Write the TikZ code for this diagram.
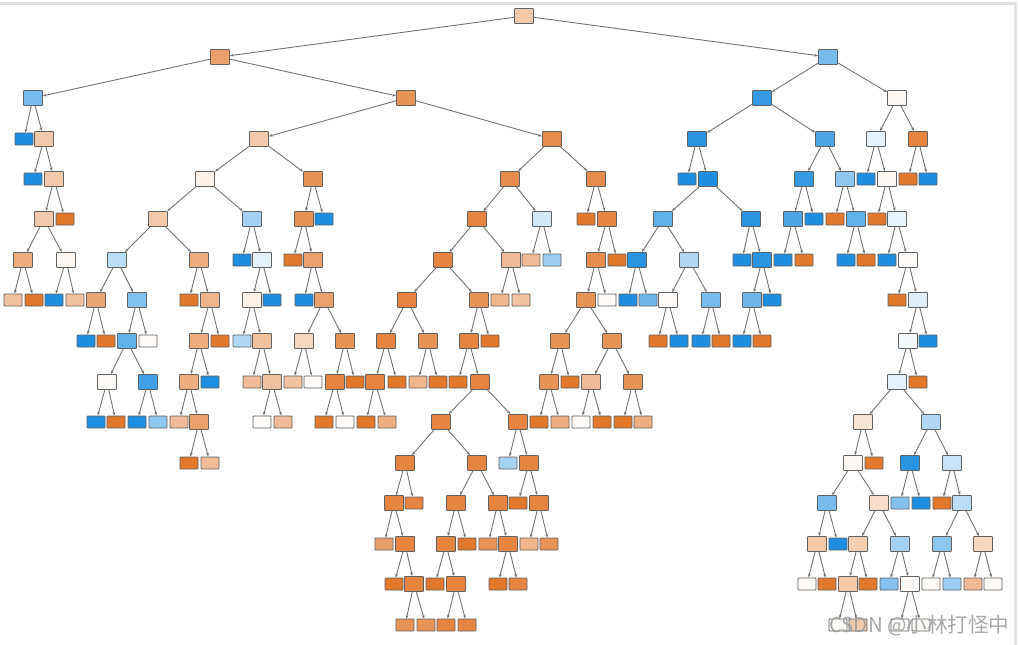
\documentclass[tikz,border=0pt]{standalone}
\usepackage{fontspec}
\usepackage{tikz}
\usetikzlibrary{arrows.meta}
\newfontfamily\cjk{Noto Sans CJK SC}
\definecolor{clsA}{HTML}{E2782C}
\definecolor{clsB}{HTML}{1E8FE0}
\tikzset{
  box/.style={rectangle, rounded corners=0.8pt, draw=black!62, line width=0.9pt, inner sep=0pt},
  split/.style={box, fill=#1, minimum width=19pt, minimum height=15pt},
  leaf/.style={box, fill=#1, minimum width=18pt, minimum height=12pt},
  link/.style={draw=black!55, line width=0.9pt, -{Stealth[length=3.6pt, width=2.8pt]}}
}
\begin{document}
\begin{tikzpicture}[x=1pt, y=-1pt]
		\useasboundingbox (0,0) rectangle (1018,645);
		\draw [black!12, line width=3pt] (0,3) -- (1015,3) -- (1015,645);

		\node [split=clsA!40] (n0) at (524,16) {};

		\node [split=clsA!70] (n1a) at (220,57) {};
		\node [split=clsB!60] (n1b) at (828,57) {};
		\draw [link] (n0) -- (n1a);
		\draw [link] (n0) -- (n1b);

		\node [split=clsB!60] (n2a) at (33,98) {};
		\node [split=clsA!80] (n2b) at (406,98) {};
		\node [split=clsB!90] (n2c) at (762,98) {};
		\node [split=clsA!5] (n2d) at (897,98) {};
		\draw [link] (n1a) -- (n2a);
		\draw [link] (n1a) -- (n2b);
		\draw [link] (n1b) -- (n2c);
		\draw [link] (n1b) -- (n2d);

		\node [leaf=clsB] (n3a) at (24,139) {};
		\node [split=clsA!40] (n3b) at (44,139) {};
		\node [split=clsA!40] (n3c) at (259,139) {};
		\node [split=clsA!85] (n3d) at (552,139) {};
		\node [split=clsB!95] (n3e) at (697,139) {};
		\node [split=clsB!80] (n3f) at (825,139) {};
		\node [split=clsB!12] (n3g) at (876,139) {};
		\node [split=clsA!90] (n3h) at (918,139) {};
		\draw [link] (n2a) -- (n3a);
		\draw [link] (n2a) -- (n3b);
		\draw [link] (n2b) -- (n3c);
		\draw [link] (n2b) -- (n3d);
		\draw [link] (n2c) -- (n3e);
		\draw [link] (n2c) -- (n3f);
		\draw [link] (n2d) -- (n3g);
		\draw [link] (n2d) -- (n3h);

		\node [leaf=clsB] (n4a) at (33,179) {};
		\node [split=clsA!40] (n4b) at (54,179) {};
		\node [split=clsA!10] (n4c) at (205,179) {};
		\node [split=clsA!80] (n4d) at (313,179) {};
		\node [split=clsA!85] (n4e) at (510,179) {};
		\node [split=clsA!85] (n4f) at (596,179) {};
		\node [leaf=clsB] (n4g) at (687,179) {};
		\node [split=clsB] (n4h) at (708,179) {};
		\node [split=clsB!90] (n4i) at (804,179) {};
		\node [split=clsB!50] (n4j) at (845,179) {};
		\node [leaf=clsB] (n4k) at (866,179) {};
		\node [split=clsA!5] (n4l) at (887,179) {};
		\node [leaf=clsA] (n4m) at (908,179) {};
		\node [leaf=clsB] (n4n) at (928,179) {};
		\draw [link] (n3b) -- (n4a);
		\draw [link] (n3b) -- (n4b);
		\draw [link] (n3c) -- (n4c);
		\draw [link] (n3c) -- (n4d);
		\draw [link] (n3d) -- (n4e);
		\draw [link] (n3d) -- (n4f);
		\draw [link] (n3e) -- (n4g);
		\draw [link] (n3e) -- (n4h);
		\draw [link] (n3f) -- (n4i);
		\draw [link] (n3f) -- (n4j);
		\draw [link] (n3g) -- (n4k);
		\draw [link] (n3g) -- (n4l);
		\draw [link] (n3h) -- (n4m);
		\draw [link] (n3h) -- (n4n);

		\node [split=clsA!40] (n5a) at (44,219) {};
		\node [leaf=clsA] (n5b) at (65,219) {};
		\node [split=clsA!40] (n5c) at (158,219) {};
		\node [split=clsB!40] (n5d) at (252,219) {};
		\node [split=clsA!80] (n5e) at (304,219) {};
		\node [leaf=clsB] (n5f) at (324,219) {};
		\node [split=clsA!90] (n5g) at (477,219) {};
		\node [split=clsB!20] (n5h) at (542,219) {};
		\node [leaf=clsA] (n5i) at (586,219) {};
		\node [split=clsA!90] (n5j) at (607,219) {};
		\node [split=clsB!70] (n5k) at (663,219) {};
		\node [split=clsB!95] (n5l) at (751,219) {};
		\node [split=clsB!80] (n5m) at (793,219) {};
		\node [leaf=clsB] (n5n) at (814,219) {};
		\node [leaf=clsA] (n5o) at (835,219) {};
		\node [split=clsB!70] (n5p) at (856,219) {};
		\node [leaf=clsA] (n5q) at (877,219) {};
		\node [split=clsB!10] (n5r) at (897,219) {};
		\draw [link] (n4b) -- (n5a);
		\draw [link] (n4b) -- (n5b);
		\draw [link] (n4c) -- (n5c);
		\draw [link] (n4c) -- (n5d);
		\draw [link] (n4d) -- (n5e);
		\draw [link] (n4d) -- (n5f);
		\draw [link] (n4e) -- (n5g);
		\draw [link] (n4e) -- (n5h);
		\draw [link] (n4f) -- (n5i);
		\draw [link] (n4f) -- (n5j);
		\draw [link] (n4h) -- (n5k);
		\draw [link] (n4h) -- (n5l);
		\draw [link] (n4i) -- (n5m);
		\draw [link] (n4i) -- (n5n);
		\draw [link] (n4j) -- (n5o);
		\draw [link] (n4j) -- (n5p);
		\draw [link] (n4l) -- (n5q);
		\draw [link] (n4l) -- (n5r);

		\node [split=clsA!60] (n6a) at (23,260) {};
		\node [split=clsA!5] (n6b) at (66,260) {};
		\node [split=clsB!30] (n6c) at (117,260) {};
		\node [split=clsA!60] (n6d) at (199,260) {};
		\node [leaf=clsB] (n6e) at (242,260) {};
		\node [split=clsB!12] (n6f) at (262,260) {};
		\node [leaf=clsA] (n6g) at (293,260) {};
		\node [split=clsA!70] (n6h) at (313,260) {};
		\node [split=clsA!90] (n6i) at (443,260) {};
		\node [split=clsA!50] (n6j) at (511,260) {};
		\node [leaf=clsA!50] (n6k) at (531,260) {};
		\node [leaf=clsB!45] (n6l) at (552,260) {};
		\node [split=clsA!85] (n6m) at (596,260) {};
		\node [leaf=clsA] (n6n) at (617,260) {};
		\node [split=clsB!95] (n6o) at (637,260) {};
		\node [split=clsB!35] (n6p) at (689,260) {};
		\node [leaf=clsB] (n6q) at (742,260) {};
		\node [split=clsB!95] (n6r) at (762,260) {};
		\node [leaf=clsB] (n6s) at (783,260) {};
		\node [leaf=clsA] (n6t) at (804,260) {};
		\node [leaf=clsB] (n6u) at (846,260) {};
		\node [leaf=clsA] (n6v) at (866,260) {};
		\node [leaf=clsB] (n6w) at (887,260) {};
		\node [split=clsA!3] (n6x) at (908,260) {};
		\draw [link] (n5a) -- (n6a);
		\draw [link] (n5a) -- (n6b);
		\draw [link] (n5c) -- (n6c);
		\draw [link] (n5c) -- (n6d);
		\draw [link] (n5d) -- (n6e);
		\draw [link] (n5d) -- (n6f);
		\draw [link] (n5e) -- (n6g);
		\draw [link] (n5e) -- (n6h);
		\draw [link] (n5g) -- (n6i);
		\draw [link] (n5g) -- (n6j);
		\draw [link] (n5h) -- (n6k);
		\draw [link] (n5h) -- (n6l);
		\draw [link] (n5j) -- (n6m);
		\draw [link] (n5j) -- (n6n);
		\draw [link] (n5k) -- (n6o);
		\draw [link] (n5k) -- (n6p);
		\draw [link] (n5l) -- (n6q);
		\draw [link] (n5l) -- (n6r);
		\draw [link] (n5m) -- (n6s);
		\draw [link] (n5m) -- (n6t);
		\draw [link] (n5p) -- (n6u);
		\draw [link] (n5p) -- (n6v);
		\draw [link] (n5r) -- (n6w);
		\draw [link] (n5r) -- (n6x);

		\node [leaf=clsA!45] (n7a) at (13,300) {};
		\node [leaf=clsA] (n7b) at (34,300) {};
		\node [leaf=clsB] (n7c) at (54,300) {};
		\node [leaf=clsA!45] (n7d) at (75,300) {};
		\node [split=clsA!65] (n7e) at (96,300) {};
		\node [split=clsB!55] (n7f) at (137,300) {};
		\node [leaf=clsA] (n7g) at (189,300) {};
		\node [split=clsA!55] (n7h) at (210,300) {};
		\node [split=clsA!12] (n7i) at (252,300) {};
		\node [leaf=clsB] (n7j) at (272,300) {};
		\node [leaf=clsB] (n7k) at (304,300) {};
		\node [split=clsA!70] (n7l) at (324,300) {};
		\node [split=clsA!90] (n7m) at (407,300) {};
		\node [split=clsA!80] (n7n) at (479,300) {};
		\node [leaf=clsA!55] (n7o) at (500,300) {};
		\node [leaf=clsA!45] (n7p) at (521,300) {};
		\node [split=clsA!80] (n7q) at (586,300) {};
		\node [leaf=clsA!4] (n7r) at (607,300) {};
		\node [leaf=clsB] (n7s) at (628,300) {};
		\node [leaf=clsB!65] (n7t) at (648,300) {};
		\node [split=clsA!4] (n7u) at (668,300) {};
		\node [split=clsB!60] (n7v) at (711,300) {};
		\node [split=clsB!65] (n7w) at (752,300) {};
		\node [leaf=clsB] (n7x) at (772,300) {};
		\node [leaf=clsA] (n7y) at (897,300) {};
		\node [split=clsB!15] (n7z) at (918,300) {};
		\draw [link] (n6a) -- (n7a);
		\draw [link] (n6a) -- (n7b);
		\draw [link] (n6b) -- (n7c);
		\draw [link] (n6b) -- (n7d);
		\draw [link] (n6c) -- (n7e);
		\draw [link] (n6c) -- (n7f);
		\draw [link] (n6d) -- (n7g);
		\draw [link] (n6d) -- (n7h);
		\draw [link] (n6f) -- (n7i);
		\draw [link] (n6f) -- (n7j);
		\draw [link] (n6h) -- (n7k);
		\draw [link] (n6h) -- (n7l);
		\draw [link] (n6i) -- (n7m);
		\draw [link] (n6i) -- (n7n);
		\draw [link] (n6j) -- (n7o);
		\draw [link] (n6j) -- (n7p);
		\draw [link] (n6m) -- (n7q);
		\draw [link] (n6m) -- (n7r);
		\draw [link] (n6o) -- (n7s);
		\draw [link] (n6o) -- (n7t);
		\draw [link] (n6p) -- (n7u);
		\draw [link] (n6p) -- (n7v);
		\draw [link] (n6r) -- (n7w);
		\draw [link] (n6r) -- (n7x);
		\draw [link] (n6x) -- (n7y);
		\draw [link] (n6x) -- (n7z);

		\node [leaf=clsB] (n8a) at (86,341) {};
		\node [leaf=clsA] (n8b) at (106,341) {};
		\node [split=clsB!70] (n8c) at (127,341) {};
		\node [leaf=clsA!4] (n8d) at (148,341) {};
		\node [split=clsA!60] (n8e) at (199,341) {};
		\node [leaf=clsA] (n8f) at (220,341) {};
		\node [leaf=clsB!35] (n8g) at (242,341) {};
		\node [split=clsA!45] (n8h) at (262,341) {};
		\node [split=clsA!30] (n8i) at (304,341) {};
		\node [split=clsA!80] (n8j) at (345,341) {};
		\node [split=clsA!90] (n8k) at (386,341) {};
		\node [split=clsA!80] (n8l) at (428,341) {};
		\node [split=clsA!90] (n8m) at (469,341) {};
		\node [leaf=clsA] (n8n) at (490,341) {};
		\node [split=clsA!80] (n8o) at (560,341) {};
		\node [split=clsA!80] (n8p) at (612,341) {};
		\node [leaf=clsA] (n8q) at (658,341) {};
		\node [leaf=clsB] (n8r) at (679,341) {};
		\node [leaf=clsB] (n8s) at (701,341) {};
		\node [leaf=clsA] (n8t) at (721,341) {};
		\node [leaf=clsB] (n8u) at (742,341) {};
		\node [leaf=clsA] (n8v) at (762,341) {};
		\node [split=clsB!5] (n8w) at (908,341) {};
		\node [leaf=clsB] (n8x) at (928,341) {};
		\draw [link] (n7e) -- (n8a);
		\draw [link] (n7e) -- (n8b);
		\draw [link] (n7f) -- (n8c);
		\draw [link] (n7f) -- (n8d);
		\draw [link] (n7h) -- (n8e);
		\draw [link] (n7h) -- (n8f);
		\draw [link] (n7i) -- (n8g);
		\draw [link] (n7i) -- (n8h);
		\draw [link] (n7l) -- (n8i);
		\draw [link] (n7l) -- (n8j);
		\draw [link] (n7m) -- (n8k);
		\draw [link] (n7m) -- (n8l);
		\draw [link] (n7n) -- (n8m);
		\draw [link] (n7n) -- (n8n);
		\draw [link] (n7q) -- (n8o);
		\draw [link] (n7q) -- (n8p);
		\draw [link] (n7u) -- (n8q);
		\draw [link] (n7u) -- (n8r);
		\draw [link] (n7v) -- (n8s);
		\draw [link] (n7v) -- (n8t);
		\draw [link] (n7w) -- (n8u);
		\draw [link] (n7w) -- (n8v);
		\draw [link] (n7z) -- (n8w);
		\draw [link] (n7z) -- (n8x);

		\node [split=clsA!4] (n9a) at (107,382) {};
		\node [split=clsB!85] (n9b) at (148,382) {};
		\node [split=clsA!60] (n9c) at (189,382) {};
		\node [leaf=clsB] (n9d) at (210,382) {};
		\node [leaf=clsA!50] (n9e) at (252,382) {};
		\node [split=clsA!45] (n9f) at (272,382) {};
		\node [leaf=clsA!45] (n9g) at (293,382) {};
		\node [leaf=clsA!4] (n9h) at (313,382) {};
		\node [split=clsA!90] (n9i) at (335,382) {};
		\node [leaf=clsA] (n9j) at (355,382) {};
		\node [split=clsA!90] (n9k) at (375,382) {};
		\node [leaf=clsA] (n9l) at (397,382) {};
		\node [leaf=clsA!55] (n9m) at (418,382) {};
		\node [leaf=clsA] (n9n) at (438,382) {};
		\node [leaf=clsA] (n9o) at (458,382) {};
		\node [split=clsA!90] (n9p) at (480,382) {};
		\node [split=clsA!80] (n9q) at (549,382) {};
		\node [leaf=clsA] (n9r) at (570,382) {};
		\node [split=clsA!50] (n9s) at (591,382) {};
		\node [split=clsA!80] (n9t) at (633,382) {};
		\node [split=clsB!12] (n9u) at (897,382) {};
		\node [leaf=clsA] (n9v) at (918,382) {};
		\draw [link] (n8c) -- (n9a);
		\draw [link] (n8c) -- (n9b);
		\draw [link] (n8e) -- (n9c);
		\draw [link] (n8e) -- (n9d);
		\draw [link] (n8h) -- (n9e);
		\draw [link] (n8h) -- (n9f);
		\draw [link] (n8i) -- (n9g);
		\draw [link] (n8i) -- (n9h);
		\draw [link] (n8j) -- (n9i);
		\draw [link] (n8j) -- (n9j);
		\draw [link] (n8k) -- (n9k);
		\draw [link] (n8k) -- (n9l);
		\draw [link] (n8l) -- (n9m);
		\draw [link] (n8l) -- (n9n);
		\draw [link] (n8m) -- (n9o);
		\draw [link] (n8m) -- (n9p);
		\draw [link] (n8o) -- (n9q);
		\draw [link] (n8o) -- (n9r);
		\draw [link] (n8p) -- (n9s);
		\draw [link] (n8p) -- (n9t);
		\draw [link] (n8w) -- (n9u);
		\draw [link] (n8w) -- (n9v);

		\node [leaf=clsB] (n10a) at (96,422) {};
		\node [leaf=clsA] (n10b) at (116,422) {};
		\node [leaf=clsB] (n10c) at (137,422) {};
		\node [leaf=clsB!50] (n10d) at (158,422) {};
		\node [leaf=clsA!50] (n10e) at (179,422) {};
		\node [split=clsA!70] (n10f) at (199,422) {};
		\node [leaf=clsA!4] (n10g) at (262,422) {};
		\node [leaf=clsA!50] (n10h) at (283,422) {};
		\node [leaf=clsA] (n10i) at (324,422) {};
		\node [leaf=clsA!4] (n10j) at (345,422) {};
		\node [leaf=clsA] (n10k) at (366,422) {};
		\node [leaf=clsA!60] (n10l) at (387,422) {};
		\node [split=clsA!90] (n10m) at (441,422) {};
		\node [split=clsA!90] (n10n) at (518,422) {};
		\node [leaf=clsA] (n10o) at (539,422) {};
		\node [leaf=clsA!60] (n10p) at (560,422) {};
		\node [leaf=clsA!4] (n10q) at (581,422) {};
		\node [leaf=clsA] (n10r) at (602,422) {};
		\node [leaf=clsA] (n10s) at (623,422) {};
		\node [leaf=clsA!60] (n10t) at (643,422) {};
		\node [split=clsA!20] (n10u) at (863,422) {};
		\node [split=clsB!35] (n10v) at (931,422) {};
		\draw [link] (n9a) -- (n10a);
		\draw [link] (n9a) -- (n10b);
		\draw [link] (n9b) -- (n10c);
		\draw [link] (n9b) -- (n10d);
		\draw [link] (n9c) -- (n10e);
		\draw [link] (n9c) -- (n10f);
		\draw [link] (n9f) -- (n10g);
		\draw [link] (n9f) -- (n10h);
		\draw [link] (n9i) -- (n10i);
		\draw [link] (n9i) -- (n10j);
		\draw [link] (n9k) -- (n10k);
		\draw [link] (n9k) -- (n10l);
		\draw [link] (n9p) -- (n10m);
		\draw [link] (n9p) -- (n10n);
		\draw [link] (n9q) -- (n10o);
		\draw [link] (n9q) -- (n10p);
		\draw [link] (n9s) -- (n10q);
		\draw [link] (n9s) -- (n10r);
		\draw [link] (n9t) -- (n10s);
		\draw [link] (n9t) -- (n10t);
		\draw [link] (n9u) -- (n10u);
		\draw [link] (n9u) -- (n10v);

		\node [leaf=clsA] (n11a) at (189,463) {};
		\node [leaf=clsA!50] (n11b) at (210,463) {};
		\node [split=clsA!90] (n11c) at (405,463) {};
		\node [split=clsA!90] (n11d) at (477,463) {};
		\node [leaf=clsB!40] (n11e) at (508,463) {};
		\node [split=clsA!90] (n11f) at (529,463) {};
		\node [split=clsA!5] (n11g) at (853,463) {};
		\node [leaf=clsA] (n11h) at (874,463) {};
		\node [split=clsB!95] (n11i) at (910,463) {};
		\node [split=clsB!25] (n11j) at (952,463) {};
		\draw [link] (n10f) -- (n11a);
		\draw [link] (n10f) -- (n11b);
		\draw [link] (n10m) -- (n11c);
		\draw [link] (n10m) -- (n11d);
		\draw [link] (n10n) -- (n11e);
		\draw [link] (n10n) -- (n11f);
		\draw [link] (n10u) -- (n11g);
		\draw [link] (n10u) -- (n11h);
		\draw [link] (n10v) -- (n11i);
		\draw [link] (n10v) -- (n11j);

		\node [split=clsA!90] (n12a) at (394,503) {};
		\node [leaf=clsA!90] (n12b) at (414,503) {};
		\node [split=clsA!90] (n12c) at (456,503) {};
		\node [split=clsA!90] (n12d) at (498,503) {};
		\node [leaf=clsA] (n12e) at (518,503) {};
		\node [split=clsA!90] (n12f) at (539,503) {};
		\node [split=clsB!60] (n12g) at (827,503) {};
		\node [split=clsA!25] (n12h) at (879,503) {};
		\node [leaf=clsB!55] (n12i) at (900,503) {};
		\node [leaf=clsB] (n12j) at (921,503) {};
		\node [leaf=clsA] (n12k) at (942,503) {};
		\node [split=clsB!30] (n12l) at (962,503) {};
		\draw [link] (n11c) -- (n12a);
		\draw [link] (n11c) -- (n12b);
		\draw [link] (n11d) -- (n12c);
		\draw [link] (n11d) -- (n12d);
		\draw [link] (n11f) -- (n12e);
		\draw [link] (n11f) -- (n12f);
		\draw [link] (n11g) -- (n12g);
		\draw [link] (n11g) -- (n12h);
		\draw [link] (n11i) -- (n12i);
		\draw [link] (n11i) -- (n12j);
		\draw [link] (n11j) -- (n12k);
		\draw [link] (n11j) -- (n12l);

		\node [leaf=clsA!70] (n13a) at (384,544) {};
		\node [split=clsA!90] (n13b) at (405,544) {};
		\node [split=clsA!90] (n13c) at (446,544) {};
		\node [leaf=clsA] (n13d) at (467,544) {};
		\node [leaf=clsA!80] (n13e) at (488,544) {};
		\node [split=clsA!90] (n13f) at (508,544) {};
		\node [leaf=clsA!55] (n13g) at (529,544) {};
		\node [leaf=clsA!80] (n13h) at (549,544) {};
		\node [split=clsA!40] (n13i) at (817,544) {};
		\node [leaf=clsB] (n13j) at (838,544) {};
		\node [split=clsA!35] (n13k) at (858,544) {};
		\node [split=clsB!40] (n13l) at (900,544) {};
		\node [split=clsB!50] (n13m) at (942,544) {};
		\node [split=clsA!30] (n13n) at (983,544) {};
		\draw [link] (n12a) -- (n13a);
		\draw [link] (n12a) -- (n13b);
		\draw [link] (n12c) -- (n13c);
		\draw [link] (n12c) -- (n13d);
		\draw [link] (n12d) -- (n13e);
		\draw [link] (n12d) -- (n13f);
		\draw [link] (n12f) -- (n13g);
		\draw [link] (n12f) -- (n13h);
		\draw [link] (n12g) -- (n13i);
		\draw [link] (n12g) -- (n13j);
		\draw [link] (n12h) -- (n13k);
		\draw [link] (n12h) -- (n13l);
		\draw [link] (n12l) -- (n13m);
		\draw [link] (n12l) -- (n13n);

		\node [leaf=clsA] (n14a) at (394,584) {};
		\node [split=clsA!90] (n14b) at (414,584) {};
		\node [leaf=clsA] (n14c) at (435,584) {};
		\node [split=clsA!90] (n14d) at (456,584) {};
		\node [leaf=clsA] (n14e) at (498,584) {};
		\node [leaf=clsA!90] (n14f) at (518,584) {};
		\node [leaf=clsA!4] (n14g) at (807,584) {};
		\node [leaf=clsA] (n14h) at (827,584) {};
		\node [split=clsA!40] (n14i) at (848,584) {};
		\node [leaf=clsA] (n14j) at (868,584) {};
		\node [leaf=clsB!55] (n14k) at (889,584) {};
		\node [split=clsA!4] (n14l) at (910,584) {};
		\node [leaf=clsA!4] (n14m) at (931,584) {};
		\node [leaf=clsB!45] (n14n) at (952,584) {};
		\node [leaf=clsA!50] (n14o) at (973,584) {};
		\node [leaf=clsA!4] (n14p) at (993,584) {};
		\draw [link] (n13b) -- (n14a);
		\draw [link] (n13b) -- (n14b);
		\draw [link] (n13c) -- (n14c);
		\draw [link] (n13c) -- (n14d);
		\draw [link] (n13f) -- (n14e);
		\draw [link] (n13f) -- (n14f);
		\draw [link] (n13i) -- (n14g);
		\draw [link] (n13i) -- (n14h);
		\draw [link] (n13k) -- (n14i);
		\draw [link] (n13k) -- (n14j);
		\draw [link] (n13l) -- (n14k);
		\draw [link] (n13l) -- (n14l);
		\draw [link] (n13m) -- (n14m);
		\draw [link] (n13m) -- (n14n);
		\draw [link] (n13n) -- (n14o);
		\draw [link] (n13n) -- (n14p);

		\node [leaf=clsA!80] (n15a) at (405,625) {};
		\node [leaf=clsA!80] (n15b) at (426,625) {};
		\node [leaf=clsA!90] (n15c) at (446,625) {};
		\node [leaf=clsA!90] (n15d) at (467,625) {};
		\node [leaf=clsA!4] (n15e) at (838,625) {};
		\node [leaf=clsA!40] (n15f) at (858,625) {};
		\node [leaf=clsA!4] (n15g) at (900,625) {};
		\node [leaf=clsA!4] (n15h) at (921,625) {};
		\draw [link] (n14b) -- (n15a);
		\draw [link] (n14b) -- (n15b);
		\draw [link] (n14d) -- (n15c);
		\draw [link] (n14d) -- (n15d);
		\draw [link] (n14i) -- (n15e);
		\draw [link] (n14i) -- (n15f);
		\draw [link] (n14l) -- (n15g);
		\draw [link] (n14l) -- (n15h);

		\node [anchor=west, inner sep=0pt, text=black!38, opacity=0.9, font=\cjk\fontsize{20.5}{20.5}\selectfont] (mark) at (829,626) {CSDN @小林打怪中};
	\end{tikzpicture}
\end{document}
